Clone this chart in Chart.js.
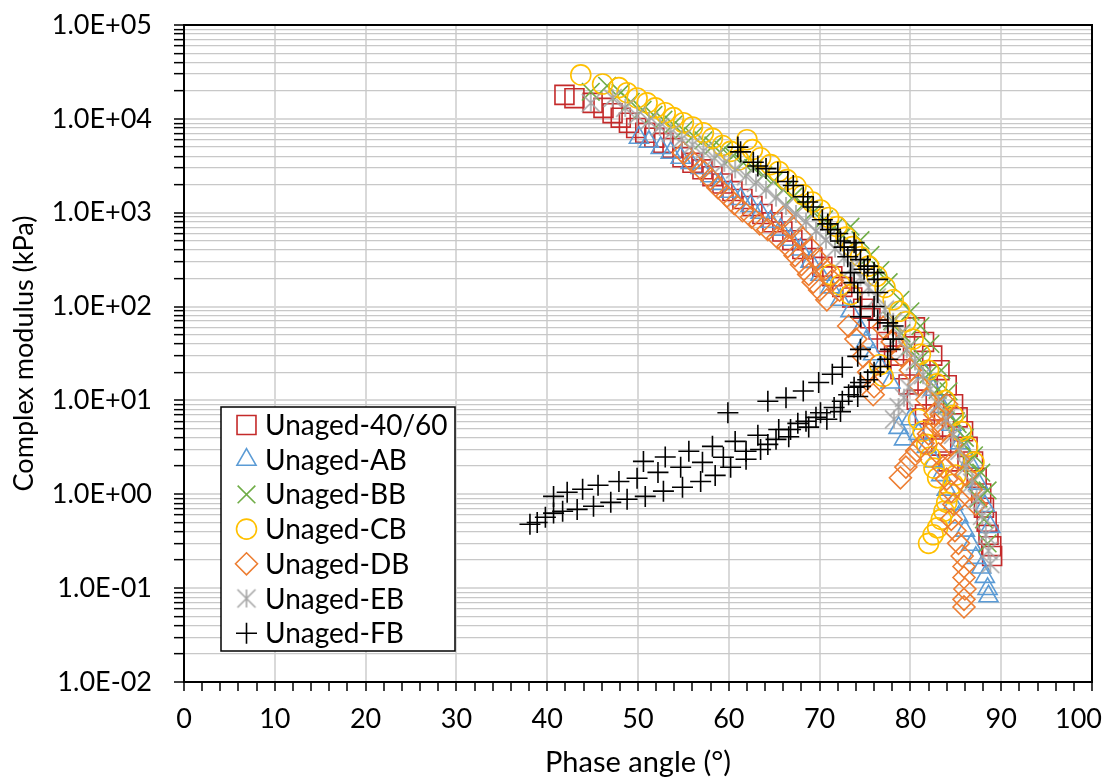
<!DOCTYPE html>
<html>
<head>
<meta charset="utf-8">
<script src="https://cdn.jsdelivr.net/npm/chart.js@4/dist/chart.umd.min.js"></script>
<style>
html,body{margin:0;padding:0;background:#ffffff;}
#wrap{width:1108px;height:780px;position:relative;}
</style>
</head>
<body>
<div id="wrap"><canvas id="c" width="1108" height="780"></canvas></div>
<script>
// ---------- DATA (phase angle in degrees, complex modulus in kPa) ----------
const seriesLabels = ['Unaged-40/60','Unaged-AB','Unaged-BB','Unaged-CB','Unaged-DB','Unaged-EB','Unaged-FB'];

const phase4060 = [41.9,43.0,45.0,46.2,47.2,48.1,49.0,49.8,50.8,51.8,52.8,53.8,54.9,56.0,57.1,58.2,59.3,60.4,61.5,62.6,63.7,64.8,65.9,67.0,68.1,69.2,70.3,71.4,72.5,73.6,74.8,75.6,76.5,77.4,78.2,78.9,79.8,80.7,81.6,82.5,83.4,84.2,
  80.5,81.5,82.4,83.2,84.0,84.7,85.2,85.8,86.3,86.9,87.3,87.8,88.1,88.4,88.6,88.9,89.0];
const mod4060 = [18000,16600,14800,13100,11500,10300,9100,8000,7100,6300,5550,4900,3900,3400,2900,2450,2050,1700,1400,1180,970,790,630,510,410,330,265,210,162,125,95,75,57,42,30,21.5,14.8,10.2,7.1,4.9,3.3,2.24,
  60,42,30,21,14.5,9.1,6.6,4.7,3.2,2.24,1.5,1.02,0.72,0.51,0.37,0.28,0.22];

const phaseAB = [50.1,51.2,52.5,53.6,54.7,55.8,56.9,58.0,59.1,60.2,61.3,62.4,63.5,64.6,65.7,66.8,67.9,69.0,70.1,71.2,72.3,73.4,74.5,75.1,75.9,76.7,77.8,78.7,79.3,80.0,80.9,81.8,82.6,83.4,84.0,84.7,85.3,86.0,86.7,87.2,87.8,88.2,88.5,88.6,
  81.5,82.5,83.5,84.5,85.5,86.5,87.5,88.2,88.8];
const modAB = [6300,5700,4900,4350,3850,3400,3000,2450,2030,1670,1400,1180,1000,800,660,515,405,300,218,160,118,89,57,42,31,22.5,15.5,5.1,3.85,6.3,4.4,3.2,2.24,1.6,1.12,0.79,0.57,0.41,0.29,0.21,0.166,0.132,0.098,0.082,
  20,13,8.5,5.5,3.5,2.2,1.3,0.75,0.45];

const phaseBB = [44.8,46.6,48.1,49.2,50.5,51.7,52.8,53.9,55.0,56.1,57.2,58.3,59.4,60.5,61.6,62.7,63.8,64.9,66.0,67.1,68.2,69.3,70.5,71.6,72.6,
  73.4,74.5,75.6,76.7,77.6,78.9,80.0,81.1,82.2,83.4,84.2,85.2,85.9,86.4,87.0,87.5,88.1,88.5,
  78.0,79.0,80.0,81.0,82.0,83.0,84.0,85.0,86.0,87.0,87.8,88.5];
const modBB = [19400,22500,19000,15200,12500,11000,9800,8700,7600,6600,5900,5200,4700,4050,3400,3000,2500,2150,1760,1480,1220,1020,850,700,570,
  710,510,355,245,182,118,89,62,40,21,12.5,5.6,3.4,2.2,1.45,0.9,0.54,0.30,
  70,52,38,27,19,13,8.8,6.0,4.0,2.6,1.7,1.1];

const phaseCB = [43.7,46.1,47.9,48.8,49.9,51.0,51.9,53.0,53.9,55.0,56.0,57.2,58.2,59.3,60.2,61.1,62.0,62.6,63.5,64.6,65.5,66.4,67.4,68.2,69.2,70.1,71.0,71.9,72.9,73.6,74.5,75.4,76.3,77.2,78.1,78.8,79.5,
  71.2,72.3,73.4,76.6,77.0,
  80.3,81.1,82.0,82.9,83.8,84.7,85.6,86.3,87.0,
  80.9,81.4,81.8,82.2,82.6,83.0,
  82.0,82.5,83.0,83.4,83.7,84.0,84.3,84.7,85.0];
const modCB = [29400,23500,21500,19000,16700,14800,13100,11600,10300,9100,8200,7100,6200,5200,4500,3650,6000,4700,3850,3250,2750,2250,1900,1550,1300,1070,890,710,550,435,340,270,210,160,118,89,69,
  218,170,134,24,18,
  45,31,21,15,10,6.9,4.7,3.2,2.2,
  6.3,4.7,3.4,2.5,1.9,1.5,
  0.30,0.37,0.44,0.54,0.66,0.82,1.02,1.28,1.6];

const phaseDB = [55.0,56.0,57.0,58.0,58.8,59.8,60.6,61.5,62.5,63.4,64.3,65.4,66.5,67.3,68.0,68.8,69.3,70.0,70.8,
  66.0,67.0,68.0,69.0,69.8,70.6,71.4,72.2,
  73.2,74.0,74.8,75.4,76.0,75.9,
  77.0,78.0,79.0,80.0,
  78.9,79.5,80.0,80.7,81.4,82.0,82.7,83.4,84.0,
  80.9,81.8,82.7,83.6,84.5,85.3,86.1,86.7,87.2,
  83.1,83.6,84.0,84.5,84.8,84.5,84.9,85.3,85.7,85.9,85.9,86.0,85.9,85.9];
const modDB = [4350,3500,2900,2300,1850,1500,1250,1050,900,760,660,540,435,350,280,220,182,150,118,
  900,700,550,420,320,250,190,150,
  62,45,29.5,20,14,11.5,
  60,42,30,21,
  1.5,1.95,2.35,2.9,3.5,4.4,5.6,7.1,9.1,
  14.8,10.2,7.1,4.9,3.4,2.35,1.62,1.12,0.78,
  2.7,1.95,1.45,1.07,0.78,0.54,0.41,0.30,0.22,0.17,0.13,0.098,0.076,0.063];

const phaseEB = [44.8,47.2,48.6,49.9,51.2,52.4,53.6,54.8,56.0,57.2,58.4,59.5,60.7,61.9,63.0,64.1,65.2,66.3,67.4,68.5,69.6,70.7,71.7,72.7,73.6,74.5,75.4,76.3,77.2,78.1,78.8,
  78.2,78.7,79.3,79.8,
  79.6,80.5,81.4,82.2,83.1,83.9,84.7,85.4,86.1,86.8,87.3,87.9,88.3,88.6,88.8];
const modEB = [14800,16700,13100,10800,9500,8200,7100,6100,5300,4550,3850,3400,2900,2450,2080,1760,1450,1180,970,800,640,515,415,333,260,205,160,125,93,69,50,
  6.3,8.5,10.7,13.8,
  35,26,18.6,13.2,9.1,6.3,4.3,2.9,1.95,1.33,0.89,0.59,0.37,0.25,0.18];

const phaseFB = [61.0,61.3,62.7,63.2,64.1,65.4,66.5,67.1,68.2,68.7,69.3,70.3,70.9,71.2,72.0,72.3,72.7,73.1,73.8,74.0,74.5,74.9,73.4,73.8,74.2,74.5,74.5,75.3,76.0,76.4,76.4,76.0,76.4,77.5,78.1,78.1,77.8,77.5,76.7,76.0,75.3,74.5,74.2,
  74.5,74.2,72.5,71.4,69.9,68.2,66.3,64.3,59.9,
  38.1,38.9,39.8,40.7,41.7,43.3,45.1,47.0,48.8,50.8,52.8,54.9,56.9,58.5,60.2,61.9,63.5,65.2,66.8,68.5,70.1,71.6,72.5,73.2,73.8,74.5,
  40.7,42.2,43.9,45.6,47.9,49.9,52.2,54.7,57.1,59.4,61.9,64.3,66.6,68.8,70.8,72.3,
  50.6,53.0,55.6,58.2,60.7,63.2,65.5,67.6,69.6];
const modFB = [5000,4450,3450,3150,2950,2700,2150,1950,1480,1300,1150,840,760,660,600,500,430,340,480,400,316,250,230,180,141,100,78,270,230,195,141,100,72,67,62,45,35,27.5,23,20,16.6,14.1,11,
  35,29.5,22.6,19,15.5,12.6,10.7,9.8,7.4,
  0.48,0.50,0.57,0.63,0.66,0.69,0.745,0.82,0.885,0.95,1.08,1.19,1.37,1.59,1.94,2.36,3.0,3.85,4.9,6.0,7.4,8.4,9.8,11.5,13.8,15.5,
  0.95,1.05,1.13,1.25,1.37,1.48,1.71,1.94,2.19,2.48,2.87,3.4,4.1,5.2,6.3,7.6,
  2.24,2.5,2.87,3.24,3.66,4.25,4.9,5.7,6.6];

const xAxisMin = 0, xAxisMax = 100, xTickStep = 2, xLabelStep = 10;
const yAxisMin = 0.01, yAxisMax = 100000;
const xTitle = 'Phase angle (°)';
const yTitle = 'Complex modulus (kPa)';

// ---------- STYLE ----------
const FONT = 'Lato, "Liberation Sans", sans-serif';

function makeAsterisk(color, half, lw){
  const s = Math.ceil(half*2 + lw*2 + 2);
  const cv = document.createElement('canvas');
  cv.width = s; cv.height = s;
  const g = cv.getContext('2d');
  const c = s/2;
  g.strokeStyle = color; g.lineWidth = lw; g.lineCap = 'butt';
  g.beginPath();
  g.moveTo(c-half, c-half); g.lineTo(c+half, c+half);
  g.moveTo(c+half, c-half); g.lineTo(c-half, c+half);
  g.moveTo(c, c-half); g.lineTo(c, c+half);
  g.stroke();
  return cv;
}

const styles = [
  {color:'#C42A2A', style:'rect',     r:13.4},
  {color:'#5B9BD5', style:'triangle', r:11},
  {color:'#70AD47', style:'crossRot', r:12.5},
  {color:'#FFC000', style:'circle',   r:10},
  {color:'#ED7D31', style:'rectRot',  r:11},
  {color:'#A5A5A5', style:makeAsterisk('#A5A5A5', 9, 1.6), r:10},
  {color:'#000000', style:'cross',    r:10.5}
];
const seriesPhase = [phase4060, phaseAB, phaseBB, phaseCB, phaseDB, phaseEB, phaseFB];
const seriesMod   = [mod4060, modAB, modBB, modCB, modDB, modEB, modFB];

const datasets = seriesLabels.map((lab, i) => ({
  label: lab,
  data: seriesPhase[i].map((x, k) => ({x: x, y: seriesMod[i][k]})),
  showLine: false,
  pointStyle: styles[i].style,
  pointRadius: styles[i].r,
  pointHoverRadius: styles[i].r,
  pointBorderColor: styles[i].color,
  pointBackgroundColor: 'rgba(0,0,0,0)',
  pointBorderWidth: 1.6,
  borderColor: styles[i].color,
  backgroundColor: 'rgba(0,0,0,0)',
  borderWidth: 1.6,
  order: seriesLabels.length - i
}));

function isDecade(v){ const l = Math.log10(v); return Math.abs(l - Math.round(l)) < 1e-6; }
function fmtExp(v){ const e = Math.round(Math.log10(v)); return '1.0E' + (e < 0 ? '-' : '+') + String(Math.abs(e)).padStart(2,'0'); }

const plotBorder = {
  id: 'plotBorder',
  beforeDatasetsDraw(chart){
    const {ctx, chartArea: a} = chart;
    ctx.save();
    ctx.strokeStyle = '#000'; ctx.lineWidth = 2;
    ctx.strokeRect(a.left, a.top, a.right - a.left, a.bottom - a.top);
    ctx.restore();
  }
};

const insideLegend = {
  id: 'insideLegend',
  afterDraw(chart){
    const {ctx, chartArea: a} = chart;
    const bx = a.left + 37, by = a.top + 382, bw = 234, bh = 244, rowH = 34.7;
    ctx.save();
    ctx.fillStyle = '#fff'; ctx.fillRect(bx, by, bw, bh);
    ctx.strokeStyle = '#000'; ctx.lineWidth = 1.5; ctx.strokeRect(bx, by, bw, bh);
    chart.data.datasets.forEach((ds, i) => {
      const cy = by + 18 + i * rowH;
      const mx = bx + 25.5;
      ctx.save();
      ctx.strokeStyle = ds.pointBorderColor;
      ctx.fillStyle = 'rgba(0,0,0,0)';
      ctx.lineWidth = ds.pointBorderWidth;
      Chart.helpers.drawPoint(ctx, {pointStyle: ds.pointStyle, radius: ds.pointRadius, borderWidth: ds.pointBorderWidth, rotation: 0}, mx, cy);
      ctx.restore();
      ctx.fillStyle = '#000';
      ctx.font = '28px ' + FONT;
      ctx.textBaseline = 'middle';
      ctx.textAlign = 'left';
      ctx.fillText(ds.label, bx + 44, cy + 1);
    });
    ctx.restore();
  }
};

const yTickValues = [];
for (let e = Math.round(Math.log10(yAxisMin)); e < Math.round(Math.log10(yAxisMax)); e++) {
  for (let m = 1; m <= 9; m++) yTickValues.push(m * Math.pow(10, e));
}
yTickValues.push(yAxisMax);

new Chart(document.getElementById('c'), {
  type: 'scatter',
  data: { datasets: datasets },
  options: {
    responsive: false,
    animation: false,
    devicePixelRatio: 1,
    layout: { padding: { top: 25, right: 16, left: 0, bottom: 0 } },
    plugins: { legend: { display: false }, tooltip: { enabled: false } },
    scales: {
      x: {
        type: 'linear', min: xAxisMin, max: xAxisMax,
        afterFit(s){ s.height = 98; s.paddingLeft = 0; s.paddingRight = 0; },
        ticks: {
          stepSize: xTickStep, autoSkip: false, maxRotation: 0, padding: 12,
          color: '#000', font: { family: FONT, size: 27 },
          callback(v){
            const r = Math.round(v);
            if (r % xLabelStep !== 0) return '';
            return r === xAxisMax ? String(r) + '\u2002\u2002' : String(r);
          }
        },
        grid: {
          drawTicks: true, tickLength: 9,
          color(ctx){ const v = ctx.tick ? ctx.tick.value : 0; return (Math.round(v) % xLabelStep === 0) ? '#D9D9D9' : 'rgba(0,0,0,0)'; },
          lineWidth: 2,
          tickColor: '#000', tickWidth: 1.5
        },
        border: { display: true, color: '#000', width: 2 },
        title: { display: true, text: xTitle, color: '#000', font: { family: FONT, size: 29, lineHeight: 1.2 }, padding: { top: 0, bottom: 0 } }
      },
      y: {
        type: 'logarithmic', min: yAxisMin, max: yAxisMax,
        afterBuildTicks(s){ s.ticks = yTickValues.map(v => ({ value: v, major: isDecade(v) })); },
        afterFit(s){ s.width = 184; s.paddingTop = 0; s.paddingBottom = 0; },
        ticks: {
          autoSkip: false, padding: 22,
          color: '#000', font: { family: FONT, size: 27 },
          callback(v){ return isDecade(v) ? fmtExp(v) : ''; }
        },
        grid: {
          drawTicks: true, tickLength: 10,
          color(ctx){ const v = ctx.tick ? ctx.tick.value : 1; return isDecade(v) ? '#D9D9D9' : '#C8C8C8'; },
          lineWidth(ctx){ const v = ctx.tick ? ctx.tick.value : 1; return isDecade(v) ? 2 : 1.3; },
          tickColor: '#000', tickWidth: 1.5
        },
        border: { display: true, color: '#000', width: 2 },
        title: { display: true, text: yTitle, color: '#000', font: { family: FONT, size: 27, lineHeight: 1.2 }, padding: { top: 8, bottom: 0 } }
      }
    }
  },
  plugins: [plotBorder, insideLegend]
});
</script>
</body>
</html>
